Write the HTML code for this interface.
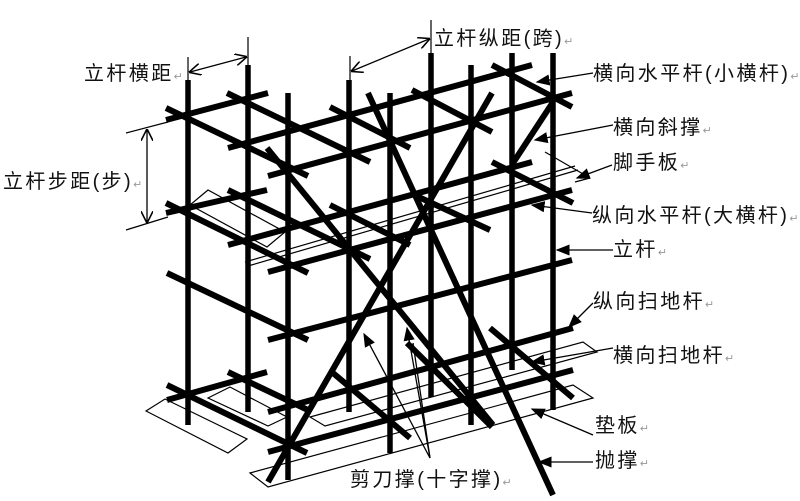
<!DOCTYPE html>
<html><head><meta charset="utf-8"><style>
html,body{margin:0;padding:0;background:#fff;}
svg{display:block;}
text{font-family:"Liberation Sans","Noto Sans CJK SC",sans-serif;font-size:20px;fill:#111;letter-spacing:2.4px;}
.r{font-size:11px;fill:#999;letter-spacing:0;}
</style></head><body>
<svg width="800" height="501" viewBox="0 0 800 501" xmlns="http://www.w3.org/2000/svg">
<defs>
<marker id="a" viewBox="0 0 10 10" refX="9" refY="5" markerWidth="11" markerHeight="11" markerUnits="userSpaceOnUse" orient="auto"><path d="M0,0 L10,5 L0,10 z" fill="#000"/></marker>
<marker id="b" viewBox="0 0 10 10" refX="9" refY="5" markerWidth="14" markerHeight="14" markerUnits="userSpaceOnUse" orient="auto"><path d="M0,1 L10,5 L0,9 z" fill="#000"/></marker>
<marker id="o" viewBox="0 0 10 10" refX="9" refY="5" markerWidth="12" markerHeight="12" markerUnits="userSpaceOnUse" orient="auto"><path d="M0,0 L10,5 L0,10" fill="none" stroke="#000" stroke-width="1.3"/></marker>
<marker id="os" viewBox="0 0 10 10" refX="9" refY="5" markerWidth="12" markerHeight="12" markerUnits="userSpaceOnUse" orient="auto-start-reverse"><path d="M0,0 L10,5 L0,10" fill="none" stroke="#000" stroke-width="1.3"/></marker>
</defs>
<rect width="800" height="501" fill="#fff"/>

<!-- base plates & boards (thin) -->
<g fill="none" stroke="#000" stroke-width="1.2">
<polygon points="146,411 165,399 247,439 228,453"/>
<polygon points="208,398 230,387 287,417 268,426"/>
<polygon points="250,473 573,385 593,398 268,487"/>
<polygon points="310,417 583,342 597,352 325,426"/>
<polygon points="190,205 208,190 285,232 267,247"/>
<line x1="245" y1="262" x2="575" y2="166"/>
<line x1="248" y1="266" x2="578" y2="170"/>
<line x1="545" y1="152" x2="590" y2="178"/>
<line x1="590" y1="178" x2="575" y2="182"/>
<!-- dimension extension lines -->
<line x1="188" y1="57" x2="188" y2="82"/>
<line x1="248" y1="37" x2="248" y2="67"/>
<line x1="350" y1="56" x2="350" y2="82"/>
<line x1="431" y1="20" x2="431" y2="55"/>
<line x1="126" y1="133" x2="168" y2="122"/>
<line x1="126" y1="230" x2="168" y2="217"/>
</g>
<g stroke="#000" stroke-width="1.3" fill="none">
<line x1="190" y1="72" x2="246" y2="57" marker-start="url(#os)" marker-end="url(#os)"/>
<line x1="352" y1="71" x2="429" y2="39" marker-start="url(#os)" marker-end="url(#os)"/>
<line x1="147" y1="130" x2="147" y2="222" marker-start="url(#os)" marker-end="url(#os)"/>
</g>

<!-- posts -->
<g stroke="#000" stroke-width="5.5">
<line x1="188" y1="80" x2="188" y2="425"/>
<line x1="248" y1="65" x2="248" y2="412"/>
<line x1="288" y1="93" x2="288" y2="480"/>
<line x1="349" y1="80" x2="349" y2="412"/>
<line x1="390" y1="93" x2="390" y2="453"/>
<line x1="431" y1="53" x2="431" y2="397"/>
<line x1="471" y1="65" x2="471" y2="425"/>
<line x1="512" y1="53" x2="512" y2="370"/>
<line x1="553" y1="53" x2="553" y2="410"/>
</g>

<!-- bars -->
<g stroke="#000" stroke-width="6">
<!-- top level -->
<line x1="166" y1="120" x2="268" y2="93"/>
<line x1="166" y1="108" x2="308" y2="176"/>
<line x1="227" y1="93" x2="370" y2="162"/>
<line x1="228" y1="148" x2="532" y2="65"/>
<line x1="268" y1="176" x2="572" y2="93"/>
<line x1="330" y1="107" x2="410" y2="148"/>
<line x1="412" y1="90" x2="492" y2="132"/>
<line x1="492" y1="65" x2="572" y2="107"/>
<line x1="513" y1="163" x2="553" y2="102"/>
<!-- level 2 -->
<line x1="166" y1="213" x2="267" y2="190"/>
<line x1="166" y1="203" x2="308" y2="273"/>
<line x1="228" y1="190" x2="370" y2="259"/>
<line x1="228" y1="245" x2="532" y2="162"/>
<line x1="268" y1="272" x2="572" y2="190"/>
<line x1="330" y1="205" x2="410" y2="245"/>
<line x1="410" y1="193" x2="490" y2="230"/>
<line x1="492" y1="162" x2="573" y2="203"/>
<!-- level 3 -->
<line x1="167" y1="273" x2="308" y2="340"/>
<line x1="268" y1="340" x2="572" y2="260"/>
<!-- bottom -->
<line x1="167" y1="400" x2="267" y2="372"/>
<line x1="167" y1="385" x2="307" y2="453"/>
<line x1="228" y1="372" x2="310" y2="411"/>
<line x1="268" y1="412" x2="573" y2="328"/>
<line x1="268" y1="452" x2="573" y2="370"/>
<line x1="333" y1="373" x2="410" y2="438"/>
<line x1="407" y1="343" x2="492" y2="427"/>
<line x1="490" y1="328" x2="573" y2="398"/>
<!-- scissors & brace -->
<line x1="492" y1="93" x2="268" y2="482"/>
<line x1="267" y1="148" x2="493" y2="425"/>
<line x1="368" y1="93" x2="553" y2="495"/>
</g>

<!-- leaders -->
<g stroke="#000" stroke-width="1.3" fill="none">
<line x1="593" y1="73" x2="537" y2="82" marker-end="url(#b)"/>
<line x1="613" y1="125" x2="535" y2="140" marker-end="url(#b)"/>
<line x1="612" y1="165" x2="577" y2="178" marker-end="url(#b)"/>
<line x1="592" y1="213" x2="532" y2="205" marker-end="url(#b)"/>
<line x1="613" y1="250" x2="557" y2="250" marker-end="url(#b)"/>
<line x1="593" y1="303" x2="569" y2="327" marker-end="url(#b)"/>
<line x1="613" y1="348" x2="532" y2="362" marker-end="url(#b)"/>
<line x1="593" y1="435" x2="532" y2="409" marker-end="url(#b)"/>
<line x1="593" y1="462" x2="539" y2="462" marker-end="url(#b)"/>
<line x1="430" y1="458" x2="364" y2="334" marker-end="url(#b)"/>
<line x1="430" y1="458" x2="407" y2="328" marker-end="url(#b)"/>
<line x1="430" y1="458" x2="413" y2="343"/>
</g>

<!-- labels -->
<text x="84" y="80">立杆横距<tspan class="r">↵</tspan></text>
<text x="434" y="45">立杆纵距(跨)<tspan class="r">↵</tspan></text>
<text x="3" y="188">立杆步距(步)<tspan class="r">↵</tspan></text>
<text x="593" y="80">横向水平杆(小横杆)<tspan class="r">↵</tspan></text>
<text x="613" y="134">横向斜撑<tspan class="r">↵</tspan></text>
<text x="613" y="169">脚手板<tspan class="r">↵</tspan></text>
<text x="592" y="222">纵向水平杆(大横杆)<tspan class="r">↵</tspan></text>
<text x="613" y="256">立杆<tspan class="r">↵</tspan></text>
<text x="593" y="308">纵向扫地杆<tspan class="r">↵</tspan></text>
<text x="613" y="362">横向扫地杆<tspan class="r">↵</tspan></text>
<text x="595" y="432">垫板<tspan class="r">↵</tspan></text>
<text x="595" y="467">抛撑<tspan class="r">↵</tspan></text>
<text x="350" y="486">剪刀撑(十字撑)<tspan class="r">↵</tspan></text>
</svg>
</body></html>
